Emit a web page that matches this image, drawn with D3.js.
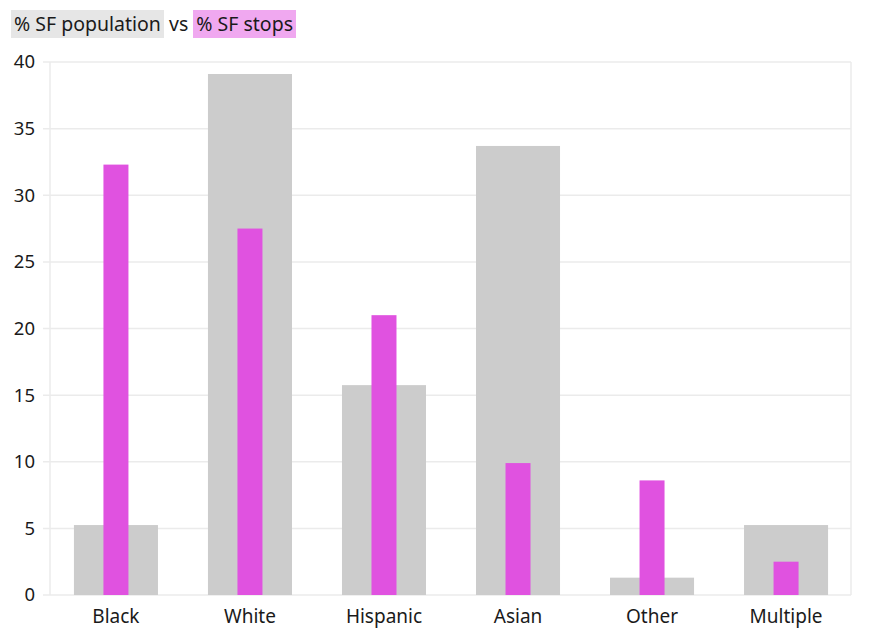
<!DOCTYPE html>
<html><head><meta charset="utf-8">
<script src="https://cdn.jsdelivr.net/npm/d3@7"></script>
<style>
body{margin:0;background:#fff;font-family:"Noto Sans",sans-serif;}
#legend{position:absolute;left:11px;top:10px;font-size:19.5px;color:#1a1a1a;line-height:28px;}
#legend span.k{padding:0 3px;display:inline-block;}
svg{position:absolute;left:0;top:0;}
</style></head>
<body>
<svg id="chart" width="881" height="640"></svg>
<div id="legend"></div>
<script>
const categories = ["Black","White","Hispanic","Asian","Other","Multiple"];
const populationPct = [5.25, 39.1, 15.75, 33.7, 1.3, 5.25];
const stopsPct = [32.3, 27.5, 21.0, 9.9, 8.6, 2.5];
const yTicks = [0,5,10,15,20,25,30,35,40];
const seriesNames = ["% SF population", "% SF stops"];

(function(){
const grey = "#cccccc", pink = "#e052e0";
const svg = d3.select("#chart");
const mL = 50, mR = 851, mT = 62, mB = 595;

const x = d3.scaleBand().domain(categories).range([49, 853]).paddingInner(0.373).paddingOuter(0.186);
const y = d3.scaleLinear().domain([0,40]).range([mB, mT]);

svg.append("g").selectAll("line").data(yTicks).join("line")
  .attr("x1", mL-7).attr("x2", mR)
  .attr("y1", d=>y(d)).attr("y2", d=>y(d))
  .attr("stroke", "#ebebeb").attr("stroke-width", 1.5);
svg.append("line").attr("x1", mL).attr("x2", mL).attr("y1", mT).attr("y2", mB)
  .attr("stroke", "#ebebeb").attr("stroke-width", 1.5);
svg.append("line").attr("x1", mR).attr("x2", mR).attr("y1", mT).attr("y2", mB)
  .attr("stroke", "#ebebeb").attr("stroke-width", 1.5);

svg.append("g").selectAll("text").data(yTicks).join("text")
  .attr("x", 35).attr("y", d=>y(d)).attr("dy","0.35em")
  .attr("text-anchor","end").attr("font-size",18.5).attr("fill","#1a1a1a").text(d=>d);

svg.append("g").selectAll("rect").data(categories).join("rect")
  .attr("x", d=>x(d)).attr("width", x.bandwidth())
  .attr("y", (d,i)=>y(populationPct[i])).attr("height",(d,i)=>y(0)-y(populationPct[i]))
  .attr("fill", grey);

const bw = 25;
svg.append("g").selectAll("rect").data(categories).join("rect")
  .attr("x", d=>x(d)+x.bandwidth()/2-bw/2).attr("width", bw)
  .attr("y", (d,i)=>y(stopsPct[i])).attr("height",(d,i)=>y(0)-y(stopsPct[i]))
  .attr("fill", pink);

svg.append("g").selectAll("text").data(categories).join("text")
  .attr("x", d=>x(d)+x.bandwidth()/2).attr("y", 623)
  .attr("text-anchor","middle").attr("font-size",19).attr("fill","#1a1a1a").text(d=>d);

const lg = d3.select("#legend");
lg.append("span").attr("class","k").style("background","#e6e6e6").text(seriesNames[0]);
lg.append("span").text(" vs ");
lg.append("span").attr("class","k").style("background","#f0a8f0").text(seriesNames[1]);
})();
</script>
</body></html>
